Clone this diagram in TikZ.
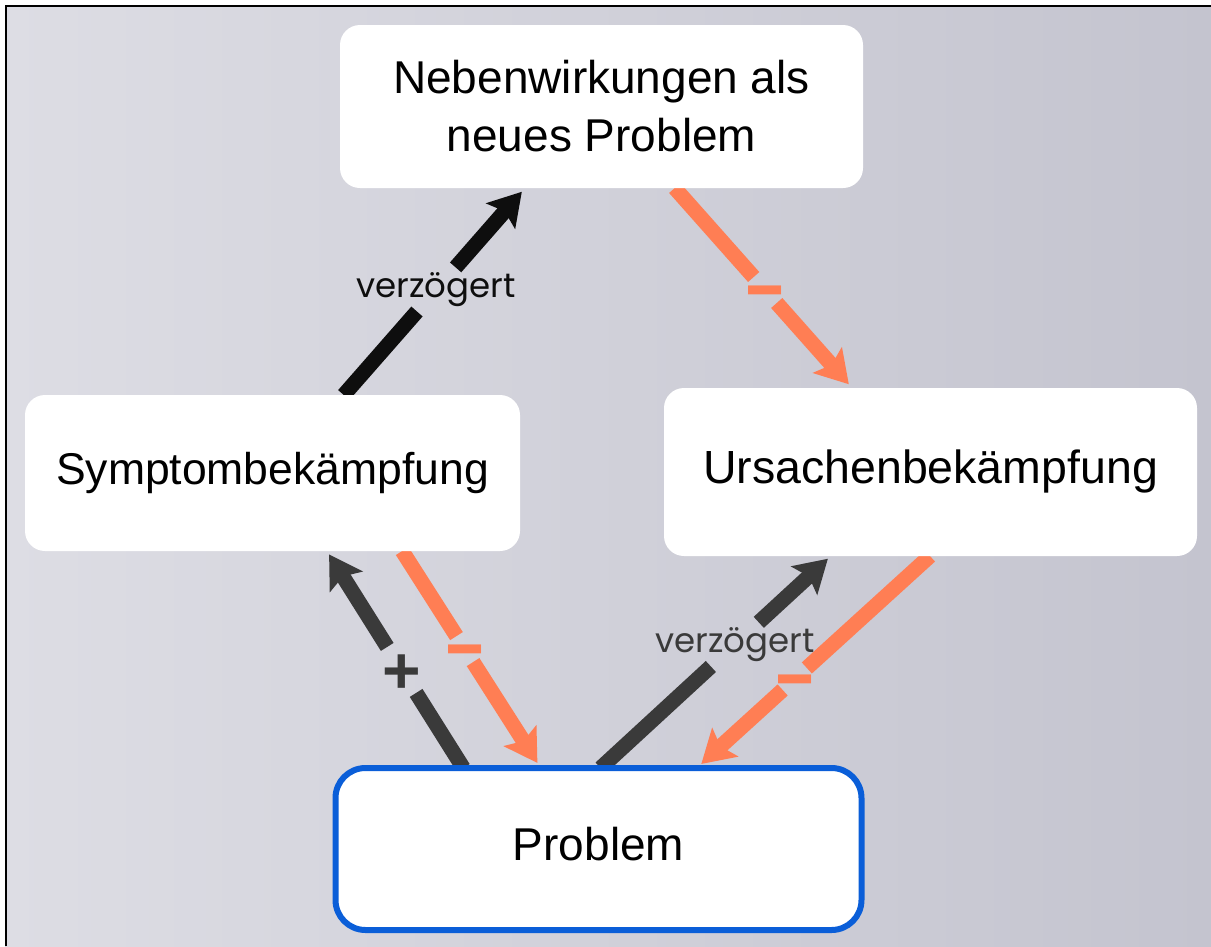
\documentclass[tikz,border=0pt]{standalone}
\usepackage{fontspec}
\usepackage{graphicx}
\setmainfont{Liberation Sans}
\newfontfamily\labelfont{Poppins}
\usetikzlibrary{arrows.meta, calc, backgrounds}

\definecolor{bglinks}{RGB}{221,221,228}
\definecolor{bgrechts}{RGB}{196,196,207}
\definecolor{orangepfeil}{RGB}{255,126,84}
\definecolor{graupfeil}{RGB}{58,58,58}
\definecolor{schwarzpfeil}{RGB}{14,14,14}
\definecolor{blaurand}{RGB}{10,94,216}

\tikzset{
  kasten/.style={fill=white, rounded corners=20pt, inner sep=0pt, outer sep=0pt,
    align=center, font=\fontsize{46}{58}\selectfont},
  einzeilig/.style={text height=34.5pt, text depth=11.5pt},
  linie/.style={line width=15pt},
  pfeil/.style={line width=15pt, -{Stealth[length=32pt, width=38pt, inset=6pt]}},
  verz/.style={inner xsep=2pt, inner ysep=5pt, outer sep=0pt,
    font=\labelfont\fontsize{34}{34}\selectfont},
  zeichen/.style={inner sep=0pt, outer sep=0pt, minimum width=36pt,
    text height=0pt, text depth=0pt, font=\fontsize{58}{58}\bfseries},
}
\newcommand{\minuszeichen}{\raisebox{-0.42em}{\scalebox{1.15}[1.55]{–}}}

\begin{document}
\begin{tikzpicture}[x=1pt, y=-1pt]
  \useasboundingbox (0,0) rectangle (1211,946);
  \begin{scope}[on background layer]
    \fill[left color=bglinks, right color=bgrechts] (5,5) rectangle (1211,946);
  \end{scope}

  \node[kasten, minimum width=523pt, minimum height=163pt] at (601.5,106.5) (neben) {Nebenwirkungen als\\neues Problem};
  \node[kasten, einzeilig, minimum width=495pt, minimum height=156pt, font=\fontsize{44.5}{50}\selectfont] at (272.5,473) (symp) {Symptombekämpfung};
  \node[kasten, einzeilig, minimum width=533pt, minimum height=168pt, font=\fontsize{46.5}{50}\selectfont] at (930.5,472) (urs) {Ursachenbekämpfung};
  \node[kasten, einzeilig, draw=blaurand, line width=6pt, rounded corners=30pt,
    minimum width=526pt, minimum height=162pt] at (598.5,849) (prob) {Problem};

  % Symptombekaempfung -> Nebenwirkungen
  \coordinate (a1) at ($(symp.north west)!0.644!(symp.north east)$);
  \coordinate (e1) at ($(neben.south west)!0.354!(neben.south east)$);
  \node[verz, text=schwarzpfeil] at ($(a1)!0.51!(e1)$) (v1) {verzögert};

  % Nebenwirkungen -> Ursachenbekaempfung
  \coordinate (a2) at ($(neben.south west)!0.64!(neben.south east)$);
  \coordinate (e2) at ($(urs.north west)!0.353!(urs.north east)$);
  \node[zeichen, minimum height=26pt, text=orangepfeil] at ($(a2)!0.51!(e2)$) (m2) {\minuszeichen};

  % Problem -> Symptombekaempfung
  \coordinate (a3) at ($(prob.north west)!0.243!(prob.north east)$);
  \coordinate (e3) at ($(symp.south west)!0.61!(symp.south east)$);
  \node[zeichen, minimum height=46pt, text=graupfeil, font=\fontsize{66}{66}\bfseries] at ($(a3)!0.452!(e3)$) (p3) {\raisebox{-0.35em}{+}};

  % Symptombekaempfung -> Problem
  \coordinate (a4) at ($(symp.south west)!0.762!(symp.south east)$);
  \coordinate (e4) at ($(prob.north west)!0.39!(prob.north east)$);
  \node[zeichen, minimum height=26pt, text=orangepfeil] at ($(a4)!0.452!(e4)$) (m4) {\minuszeichen};

  % Problem -> Ursachenbekaempfung
  \coordinate (a5) at ($(prob.north west)!0.504!(prob.north east)$);
  \coordinate (e5) at ($(urs.south west)!0.313!(urs.south east)$);
  \node[verz, text=graupfeil] at ($(a5)!0.583!(e5)$) (v5) {verzögert};

  % Ursachenbekaempfung -> Problem
  \coordinate (a6) at ($(urs.south west)!0.499!(urs.south east)$);
  \coordinate (e6) at ($(prob.north west)!0.687!(prob.north east)$);
  \node[zeichen, minimum height=22pt, text=orangepfeil] at ($(a6)!0.58!(e6)$) (m6) {\minuszeichen};

  \begin{scope}[on background layer]
    \draw[linie, schwarzpfeil] (a1) -- (v1);
    \draw[pfeil, schwarzpfeil, shorten >=5pt] (v1) -- (e1);
    \draw[linie, orangepfeil] (a2) -- (m2);
    \draw[pfeil, orangepfeil, shorten >=5pt] (m2) -- (e2);
    \draw[linie, graupfeil] (a3) -- (p3);
    \draw[pfeil, graupfeil, shorten >=4pt] (p3) -- (e3);
    \draw[linie, orangepfeil] (a4) -- (m4);
    \draw[pfeil, orangepfeil, shorten >=6pt] (m4) -- (e4);
    \draw[linie, graupfeil] (a5) -- (v5);
    \draw[pfeil, graupfeil, shorten >=4pt] (v5) -- (e5);
    \draw[linie, orangepfeil] (a6) -- (m6);
    \draw[pfeil, orangepfeil, shorten >=6pt] (m6) -- (e6);
  \end{scope}

  \draw[line width=2.4pt] (6.2,946) -- (6.2,6.2) -- (1211,6.2);
\end{tikzpicture}
\end{document}
